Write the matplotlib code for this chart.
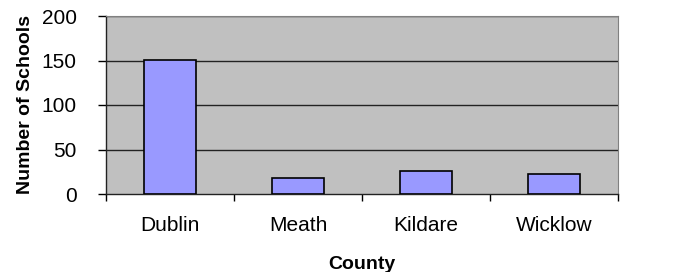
import matplotlib.pyplot as plt
import numpy as np

counties = ["Dublin", "Meath", "Kildare", "Wicklow"]
schools = [151, 18, 26, 22]
y_ticks = [0, 50, 100, 150, 200]

plt.rcParams["font.family"] = ["Liberation Sans", "DejaVu Sans"]

fig = plt.figure(figsize=(6.78, 2.72), dpi=100)
ax = fig.add_axes([106 / 678, 78 / 272, 512 / 678, 178 / 272])
ax.set_facecolor("#C0C0C0")

x = np.arange(len(counties))
ax.bar(x, schools, width=0.41, color="#9999FF", edgecolor="black", linewidth=1.2, zorder=3)

ax.set_xlim(-0.5, len(counties) - 0.5)
ax.set_ylim(0, 200)
ax.set_yticks(y_ticks)
ax.set_yticklabels([str(v) for v in y_ticks], fontsize=15)
ax.set_xticks(x)
ax.set_xticklabels(counties, fontsize=15)
ax.set_xticks(np.arange(len(counties) + 1) - 0.5, minor=True)
ax.tick_params(axis="x", which="major", length=0, pad=16)
ax.tick_params(axis="x", which="minor", length=5, width=1, direction="out")
ax.tick_params(axis="y", length=6, width=1, direction="out", pad=15)

for v in y_ticks[1:]:
    ax.axhline(v, color="#222222", linewidth=1, zorder=1)

for s in ["top", "right"]:
    ax.spines[s].set_color("#808080")
for s in ["left", "bottom"]:
    ax.spines[s].set_color("#222222")
    ax.spines[s].set_linewidth(1)

ax.set_xlabel("County", fontsize=14, fontweight="bold", labelpad=15)
ax.set_ylabel("Number of Schools", fontsize=14, fontweight="bold")
# right edge of the rotated y label sits about 33 px from the left edge
ax.yaxis.set_label_coords(-72 / 512, 0.5)

plt.savefig("out.png", dpi=100)
plt.close()
